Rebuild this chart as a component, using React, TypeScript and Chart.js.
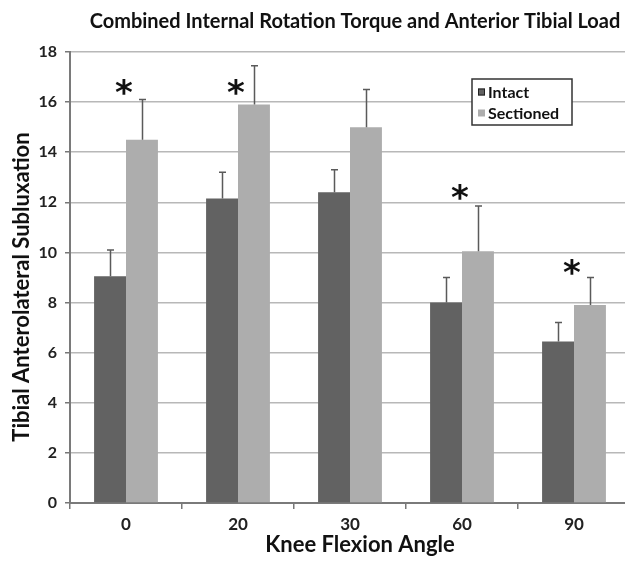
import React, { useEffect, useRef } from "react";
import { Chart, registerables } from "chart.js";

Chart.register(...registerables);

const categories = ["0", "20", "30", "60", "90"];
const intactValues = [9.05, 12.15, 12.4, 8.0, 6.45];
const sectionedValues = [14.5, 15.9, 15.0, 10.05, 7.9];
const intactErrTop = [10.1, 13.2, 13.3, 9.0, 7.2];
const sectionedErrTop = [16.1, 17.45, 16.5, 11.85, 9.0];
// level (in y units) of the significance asterisk; null = none
const asteriskLevels: (number | null)[] = [16.6, 16.6, null, 12.4, 9.4];
const yTicks = [0, 2, 4, 6, 8, 10, 12, 14, 16, 18];

const titleText = "Combined Internal Rotation Torque and Anterior Tibial Load";
const xTitle = "Knee Flexion Angle";
const yTitle = "Tibial Anterolateral Subluxation";
const legendLabels = ["Intact", "Sectioned"];

const FONT = "Lato, 'Open Sans', sans-serif";
const INTACT = "#626262";
const SECTIONED = "#adadad";

const overlayPlugin = {
  id: "overlay",
  afterDatasetsDraw(chart: any) {
    const ctx = chart.ctx;
    const y = chart.scales.y;
    const xs = chart.scales.x;
    const errs = [intactErrTop, sectionedErrTop];
    ctx.save();
    // error bars
    ctx.strokeStyle = "#5a5a5a";
    ctx.lineWidth = 1.5;
    errs.forEach((arr, di) => {
      const meta = chart.getDatasetMeta(di);
      meta.data.forEach((bar: any, i: number) => {
        const x = Math.round(bar.x) + 0.5;
        const yTop = y.getPixelForValue(arr[i]);
        ctx.beginPath();
        ctx.moveTo(x, bar.y);
        ctx.lineTo(x, yTop);
        ctx.moveTo(x - 3.5, yTop);
        ctx.lineTo(x + 3.5, yTop);
        ctx.stroke();
      });
    });
    // asterisks
    ctx.fillStyle = "#111";
    ctx.font = "bold 34px 'DejaVu Sans', sans-serif";
    ctx.textAlign = "center";
    ctx.textBaseline = "middle";
    asteriskLevels.forEach((lv, i) => {
      if (lv === null) return;
      const cx = xs.getPixelForValue(i) - 2;
      ctx.fillText("*", cx, y.getPixelForValue(lv) + 8);
    });
    // legend
    const lx = 472, ly = 79, lw = 100, lh = 46;
    ctx.fillStyle = "#fff";
    ctx.fillRect(lx, ly, lw, lh);
    ctx.strokeStyle = "#333";
    ctx.lineWidth = 1.5;
    ctx.strokeRect(lx, ly, lw, lh);
    const colors = [INTACT, SECTIONED];
    ctx.font = `bold 16px ${FONT}`;
    ctx.textAlign = "left";
    ctx.textBaseline = "middle";
    legendLabels.forEach((label, k) => {
      const yy = ly + 13 + k * 21;
      ctx.fillStyle = colors[k];
      ctx.fillRect(lx + 6, yy - 3.5, 7, 7);
      if (k === 0) {
        ctx.strokeStyle = "#222";
        ctx.lineWidth = 1;
        ctx.strokeRect(lx + 6.5, yy - 3, 6, 6);
      }
      ctx.fillStyle = "#111";
      ctx.fillText(label, lx + 16, yy + 1);
    });
    // titles
    ctx.fillStyle = "#111";
    ctx.textAlign = "center";
    ctx.textBaseline = "middle";
    ctx.font = `bold 20px ${FONT}`;
    ctx.fillText(titleText, 355, 22);
    ctx.font = `bold 22px ${FONT}`;
    ctx.fillText(xTitle, 360, 545);
    ctx.translate(22, 287);
    ctx.rotate(-Math.PI / 2);
    ctx.fillText(yTitle, 0, 0);
    ctx.restore();
  },
};

export default function App() {
  const ref = useRef<HTMLCanvasElement>(null);
  useEffect(() => {
    document.body.style.margin = "0";
    const chart = new Chart(ref.current as HTMLCanvasElement, {
      type: "bar",
      data: {
        labels: categories,
        datasets: [
          { label: legendLabels[0], data: intactValues, backgroundColor: INTACT },
          { label: legendLabels[1], data: sectionedValues, backgroundColor: SECTIONED },
        ],
      },
      options: {
        animation: false,
        responsive: false,
        layout: { padding: { top: 52, right: 0, left: 0, bottom: 0 } },
        plugins: { legend: { display: false }, tooltip: { enabled: false }, title: { display: false } },
        datasets: { bar: { categoryPercentage: 0.57, barPercentage: 1.0 } },
        scales: {
          x: {
            grid: { drawOnChartArea: false, offset: true, tickLength: 6, color: "#777", lineWidth: 1.5 },
            border: { color: "#7a7a7a", width: 2 },
            ticks: { color: "#222", font: { family: FONT, size: 17, weight: "bold" }, padding: 5 },
            afterFit(s: any) { s.height = 58; },
          },
          y: {
            min: 0,
            max: 18,
            afterBuildTicks(s: any) { s.ticks = yTicks.map((v) => ({ value: v })); },
            grid: { color: "#b8b8b8", lineWidth: 1.5, tickLength: 5, tickColor: "#777" },
            border: { color: "#7a7a7a", width: 2 },
            ticks: { color: "#222", font: { family: FONT, size: 16, weight: "bold" }, padding: 8 },
            afterFit(s: any) { s.width = 70; },
          },
        },
      } as any,
      plugins: [overlayPlugin],
    });
    return () => chart.destroy();
  }, []);
  return (
    <div style={{ width: 625, height: 561, overflow: "hidden", background: "#fff" }}>
      <canvas ref={ref} width={630} height={561} style={{ display: "block" }} />
    </div>
  );
}
